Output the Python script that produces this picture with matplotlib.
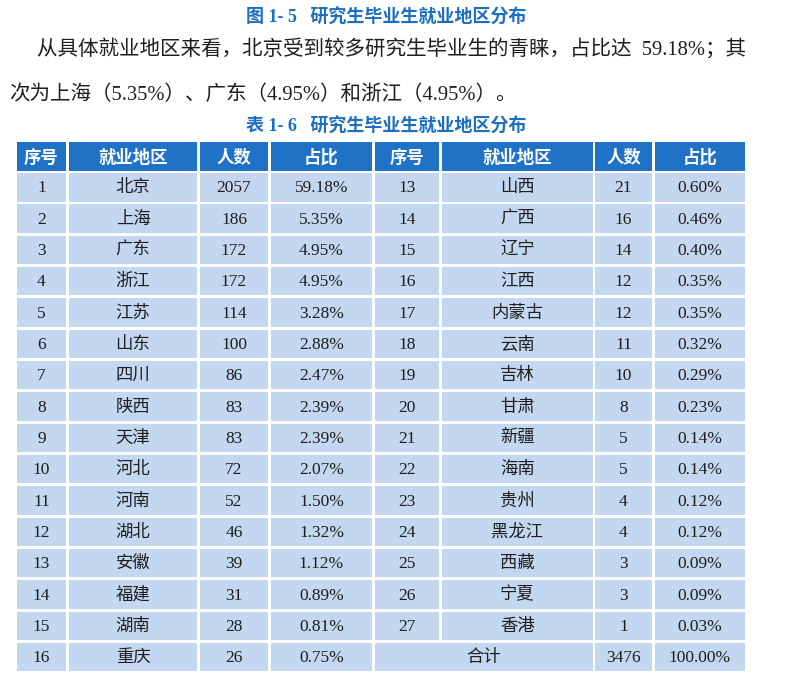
import matplotlib.pyplot as plt
from matplotlib.patches import Rectangle

plt.rcParams['font.family'] = ['Liberation Serif', 'Noto Sans CJK SC']

# 数据
headers = ["序号", "就业地区", "人数", "占比"]
left_no = [1, 2, 3, 4, 5, 6, 7, 8, 9, 10, 11, 12, 13, 14, 15, 16]
left_region = ["北京", "上海", "广东", "浙江", "江苏", "山东", "四川", "陕西",
               "天津", "河北", "河南", "湖北", "安徽", "福建", "湖南", "重庆"]
left_count = [2057, 186, 172, 172, 114, 100, 86, 83, 83, 72, 52, 46, 39, 31, 28, 26]
left_pct = ["59.18%", "5.35%", "4.95%", "4.95%", "3.28%", "2.88%", "2.47%", "2.39%",
            "2.39%", "2.07%", "1.50%", "1.32%", "1.12%", "0.89%", "0.81%", "0.75%"]
right_no = [13, 14, 15, 16, 17, 18, 19, 20, 21, 22, 23, 24, 25, 26, 27]
right_region = ["山西", "广西", "辽宁", "江西", "内蒙古", "云南", "吉林", "甘肃",
                "新疆", "海南", "贵州", "黑龙江", "西藏", "宁夏", "香港"]
right_count = [21, 16, 14, 12, 12, 11, 10, 8, 5, 5, 4, 4, 3, 3, 1]
right_pct = ["0.60%", "0.46%", "0.40%", "0.35%", "0.35%", "0.32%", "0.29%", "0.23%",
             "0.14%", "0.14%", "0.12%", "0.12%", "0.09%", "0.09%", "0.03%"]
total_label = "合计"
total_count = 3476
total_pct = "100.00%"

fig_title = "图 1- 5   研究生毕业生就业地区分布"
para1 = "从具体就业地区来看，北京受到较多研究生毕业生的青睐，占比达  59.18%；其"
para2 = "次为上海（5.35%）、广东（4.95%）和浙江（4.95%）。"
table_title = "表 1- 6   研究生毕业生就业地区分布"

# 颜色
blue = "#1b6ec2"
head_blue = "#1f72c6"
cell_blue = "#c3d8f0"
ink = "#1e1e1e"

fig = plt.figure(figsize=(8.03, 6.92), dpi=100)
ax = fig.add_axes([0, 0, 1, 1])
ax.set_xlim(0, 803)
ax.set_ylim(692, 0)
ax.axis('off')

ax.text(386, 18, fig_title, color=blue, fontsize=13, fontweight='bold',
        ha='center', va='center')
ax.text(37, 50, para1, color=ink, fontsize=14.8, ha='left', va='center')
ax.text(9, 95, para2, color=ink, fontsize=14.8, ha='left', va='center')
ax.text(386, 127, table_title, color=blue, fontsize=13, fontweight='bold',
        ha='center', va='center')

# 列边界
col_l = [17, 69, 200, 271, 375, 442, 595, 655]
col_r = [66, 197, 268, 372, 439, 593, 652, 745]
head_top, head_bot = 142, 171
row_top0 = 173
pitch = 31.33
cell_h = 28.5
fs = 12.5


def cell(x0, x1, y0, y1, text, face, color, weight='normal', family=None):
    ax.add_patch(Rectangle((x0, y0), x1 - x0, y1 - y0, facecolor=face,
                           edgecolor='none'))
    kw = {}
    if family:
        kw['family'] = family
    ax.text((x0 + x1) / 2, (y0 + y1) / 2 + 1, text, color=color, fontsize=fs,
            fontweight=weight, ha='center', va='center', **kw)


for i, h in enumerate(headers + headers):
    cell(col_l[i], col_r[i], head_top, head_bot, h, head_blue, 'white',
         weight='bold', family=['Noto Sans CJK SC'])

for r in range(len(left_no)):
    y0 = row_top0 + r * pitch
    y1 = y0 + cell_h
    vals = [str(left_no[r]), left_region[r], str(left_count[r]), left_pct[r]]
    for c, v in enumerate(vals):
        cell(col_l[c], col_r[c], y0, y1, v, cell_blue, ink)
    if r < len(right_no):
        vals = [str(right_no[r]), right_region[r], str(right_count[r]), right_pct[r]]
        for c, v in enumerate(vals):
            cell(col_l[c + 4], col_r[c + 4], y0, y1, v, cell_blue, ink)
    else:
        cell(col_l[4], col_r[5], y0, y1, total_label, cell_blue, ink)
        cell(col_l[6], col_r[6], y0, y1, str(total_count), cell_blue, ink)
        cell(col_l[7], col_r[7], y0, y1, total_pct, cell_blue, ink)

fig.savefig('out.png', dpi=100)
